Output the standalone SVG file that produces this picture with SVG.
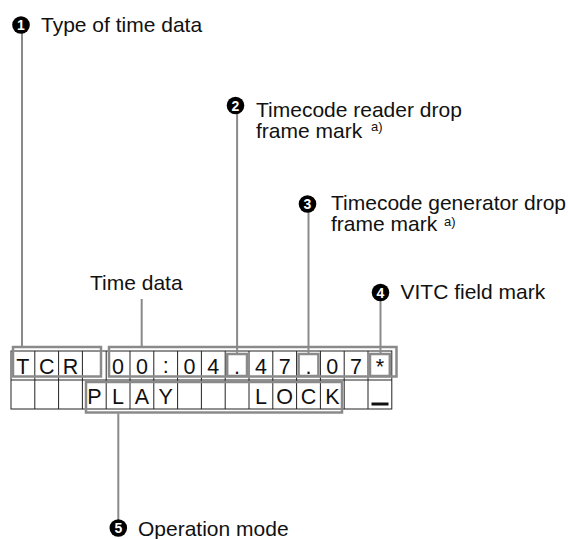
<svg xmlns="http://www.w3.org/2000/svg" width="568" height="539" viewBox="0 0 568 539">
<style>
.lbl{font-family:"Liberation Sans",Arial,sans-serif;font-size:21px;fill:#111}
.sup{font-family:"Liberation Sans",Arial,sans-serif;font-size:13px;fill:#111}
.num{font-family:"Liberation Sans",Arial,sans-serif;font-size:14px;font-weight:bold;fill:#fff;text-anchor:middle}
.ch{font-family:"Liberation Sans",Arial,sans-serif;font-size:21.5px;fill:#111;text-anchor:middle}
.grid{fill:none;stroke:#222;stroke-width:1}
.hl{fill:none;stroke:#8a8a8a;stroke-width:2.5}
.lead{fill:none;stroke:#8a8a8a;stroke-width:2}
</style>
<rect width="568" height="539" fill="#fff"/>
<g id="display">
<rect class="grid" x="11" y="351" width="380.8" height="58"/>
<line class="grid" x1="11" y1="380" x2="391.8" y2="380"/>
<g class="grid">
<line x1="34.8" y1="351" x2="34.8" y2="409"/><line x1="58.6" y1="351" x2="58.6" y2="409"/><line x1="82.4" y1="351" x2="82.4" y2="409"/><line x1="106.2" y1="351" x2="106.2" y2="409"/><line x1="130" y1="351" x2="130" y2="409"/><line x1="153.8" y1="351" x2="153.8" y2="409"/><line x1="177.6" y1="351" x2="177.6" y2="409"/><line x1="201.4" y1="351" x2="201.4" y2="409"/><line x1="225.2" y1="351" x2="225.2" y2="409"/><line x1="249" y1="351" x2="249" y2="409"/><line x1="272.8" y1="351" x2="272.8" y2="409"/><line x1="296.6" y1="351" x2="296.6" y2="409"/><line x1="320.4" y1="351" x2="320.4" y2="409"/><line x1="344.2" y1="351" x2="344.2" y2="409"/><line x1="368" y1="351" x2="368" y2="409"/>
</g>
<text class="ch" x="22.9" y="373.5">T</text><text class="ch" x="46.7" y="373.5">C</text><text class="ch" x="70.5" y="373.5">R</text>
<text class="ch" x="118.1" y="373.5">0</text><text class="ch" x="141.9" y="373.5">0</text><text class="ch" x="165.7" y="372.5">:</text><text class="ch" x="189.5" y="373.5">0</text><text class="ch" x="213.3" y="373.5">4</text><text class="ch" x="237.1" y="373.5">.</text><text class="ch" x="260.9" y="373.5">4</text><text class="ch" x="284.7" y="373.5">7</text><text class="ch" x="308.5" y="373.5">.</text><text class="ch" x="332.3" y="373.5">0</text><text class="ch" x="356.1" y="373.5">7</text><text class="ch" x="379.9" y="373.5">*</text>
<text class="ch" x="94.3" y="403.5">P</text><text class="ch" x="118.1" y="403.5">L</text><text class="ch" x="141.9" y="403.5">A</text><text class="ch" x="165.7" y="403.5">Y</text>
<text class="ch" x="260.9" y="403.5">L</text><text class="ch" x="284.7" y="403.5">O</text><text class="ch" x="308.5" y="403.5">C</text><text class="ch" x="332.3" y="403.5">K</text>
<rect x="371.5" y="402.5" width="17" height="3" fill="#111"/>
</g>
<g id="highlights">
<rect class="hl" x="13" y="347" width="88" height="29.5"/>
<rect class="hl" x="109" y="347" width="287.5" height="29.5"/>
<rect class="hl" x="227.2" y="354" width="19.8" height="22"/>
<rect class="hl" x="298.6" y="354" width="19.8" height="22"/>
<rect class="hl" x="370" y="354" width="19.8" height="22"/>
<rect class="hl" x="86" y="382" width="256" height="30.5"/>
</g>
<g id="connectors">
<line class="lead" x1="22" y1="33" x2="22" y2="346"/>
<line class="lead" x1="237.1" y1="113" x2="237.1" y2="353"/>
<line class="lead" x1="308.5" y1="212" x2="308.5" y2="353"/>
<line class="lead" x1="380.5" y1="300" x2="380.5" y2="353"/>
<line class="lead" x1="141.7" y1="299" x2="141.7" y2="346"/>
<line class="lead" x1="118.3" y1="413.5" x2="118.3" y2="520"/>
</g>
<g id="callout1">
<circle cx="21" cy="25" r="8.8" fill="#000"/><text class="num" x="21" y="30">1</text>
<text class="lbl" x="41" y="31.5">Type of time data</text>
</g>
<g id="callout2">
<circle cx="235.5" cy="105.5" r="8.8" fill="#000"/><text class="num" x="235.5" y="110.5">2</text>
<text class="lbl" x="256" y="116.5">Timecode reader drop</text>
<text class="lbl" x="256" y="138">frame mark</text><text class="sup" x="371" y="131">a)</text>
</g>
<g id="callout3">
<circle cx="307.5" cy="204" r="8.8" fill="#000"/><text class="num" x="307.5" y="209">3</text>
<text class="lbl" x="331" y="209.5">Timecode generator drop</text>
<text class="lbl" x="331" y="231">frame mark</text><text class="sup" x="444" y="225.5">a)</text>
</g>
<g id="callout4">
<circle cx="380.5" cy="292.5" r="8.8" fill="#000"/><text class="num" x="380.5" y="297.5">4</text>
<text class="lbl" x="400.5" y="298.5">VITC field mark</text>
</g>
<g id="timedata">
<text class="lbl" x="90" y="290">Time data</text>
</g>
<g id="callout5">
<circle cx="118.3" cy="528" r="8.8" fill="#000"/><text class="num" x="118.3" y="533">5</text>
<text class="lbl" x="138" y="535.5">Operation mode</text>
</g>
</svg>
